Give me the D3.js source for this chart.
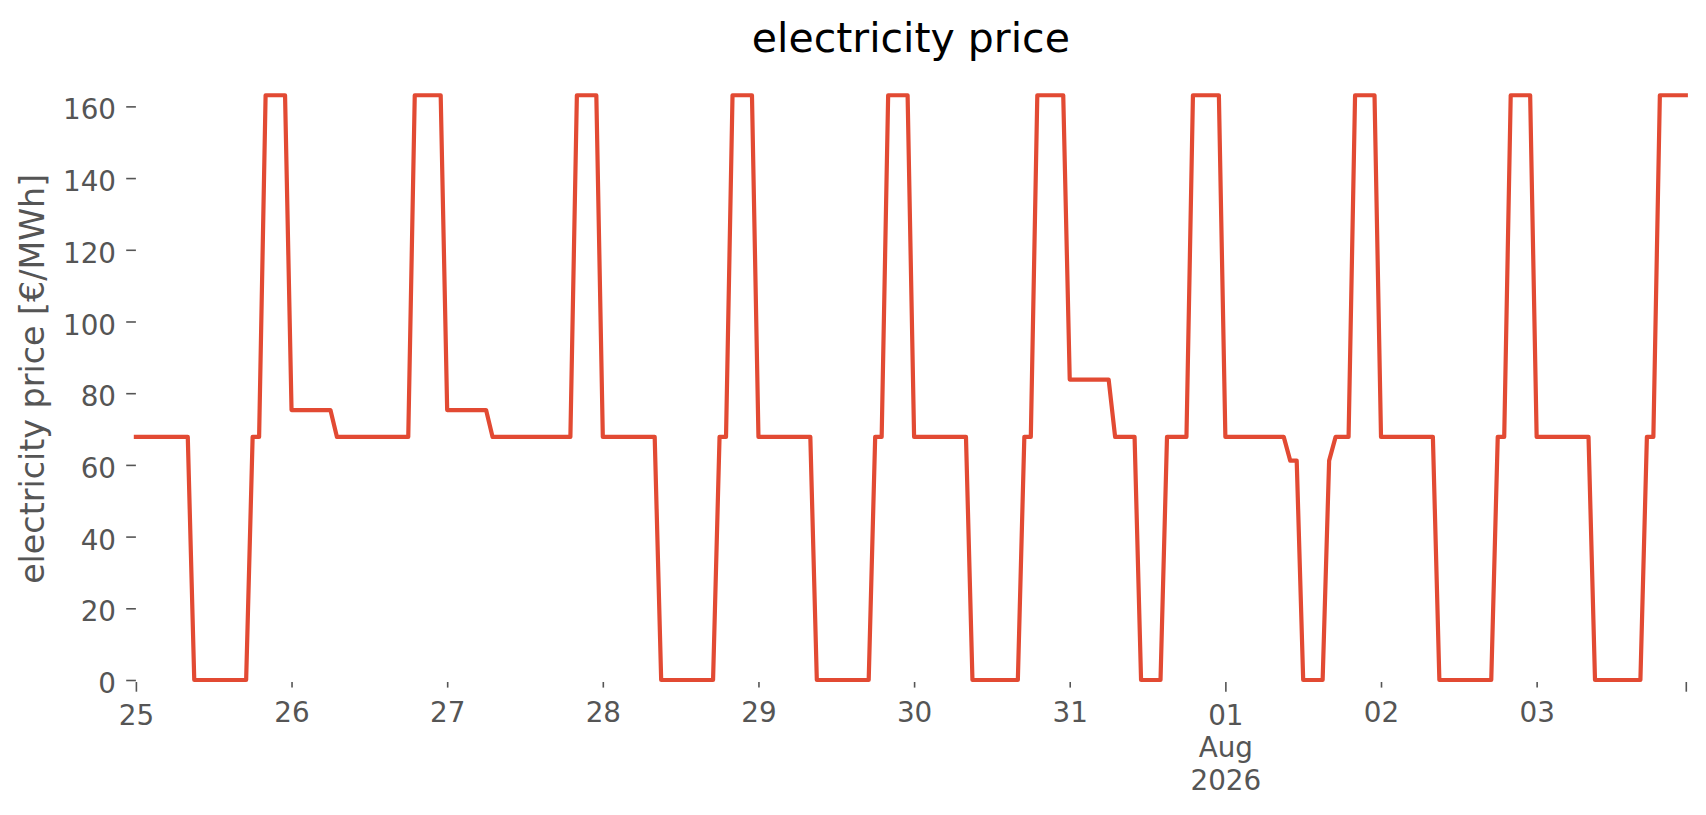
<!DOCTYPE html>
<html>
<head>
<meta charset="utf-8">
<script src="https://cdn.jsdelivr.net/npm/d3@7"></script>
<style>
  body { margin: 0; background: #fff; }
  text { font-family: "DejaVu Sans", sans-serif; }
</style>
</head>
<body>
<div id="chart"></div>
<script>
// hourly prices, 25 Jul 2026 00:00 .. 03 Aug 2026 23:00, one row per day
const prices = [
  67.8, 67.8, 67.8, 67.8, 67.8, 67.8, 67.8, 67.8, 67.8, 0, 0, 0, 0, 0, 0, 0, 0, 0, 67.8, 67.8, 163.1, 163.1, 163.1, 163.1,
  75.3, 75.3, 75.3, 75.3, 75.3, 75.3, 75.3, 67.8, 67.8, 67.8, 67.8, 67.8, 67.8, 67.8, 67.8, 67.8, 67.8, 67.8, 67.8, 163.1, 163.1, 163.1, 163.1, 163.1,
  75.3, 75.3, 75.3, 75.3, 75.3, 75.3, 75.3, 67.8, 67.8, 67.8, 67.8, 67.8, 67.8, 67.8, 67.8, 67.8, 67.8, 67.8, 67.8, 67.8, 163.1, 163.1, 163.1, 163.1,
  67.8, 67.8, 67.8, 67.8, 67.8, 67.8, 67.8, 67.8, 67.8, 0, 0, 0, 0, 0, 0, 0, 0, 0, 67.8, 67.8, 163.1, 163.1, 163.1, 163.1,
  67.8, 67.8, 67.8, 67.8, 67.8, 67.8, 67.8, 67.8, 67.8, 0, 0, 0, 0, 0, 0, 0, 0, 0, 67.8, 67.8, 163.1, 163.1, 163.1, 163.1,
  67.8, 67.8, 67.8, 67.8, 67.8, 67.8, 67.8, 67.8, 67.8, 0, 0, 0, 0, 0, 0, 0, 0, 67.8, 67.8, 163.1, 163.1, 163.1, 163.1, 163.1,
  83.8, 83.8, 83.8, 83.8, 83.8, 83.8, 83.8, 67.8, 67.8, 67.8, 67.8, 0, 0, 0, 0, 67.8, 67.8, 67.8, 67.8, 163.1, 163.1, 163.1, 163.1, 163.1,
  67.8, 67.8, 67.8, 67.8, 67.8, 67.8, 67.8, 67.8, 67.8, 67.8, 61.2, 61.2, 0, 0, 0, 0, 61.2, 67.8, 67.8, 67.8, 163.1, 163.1, 163.1, 163.1,
  67.8, 67.8, 67.8, 67.8, 67.8, 67.8, 67.8, 67.8, 67.8, 0, 0, 0, 0, 0, 0, 0, 0, 0, 67.8, 67.8, 163.1, 163.1, 163.1, 163.1,
  67.8, 67.8, 67.8, 67.8, 67.8, 67.8, 67.8, 67.8, 67.8, 0, 0, 0, 0, 0, 0, 0, 0, 67.8, 67.8, 163.1, 163.1, 163.1, 163.1, 163.1
];
const startTime = Date.UTC(2026, 6, 25, 0);
const yTicks = [0, 20, 40, 60, 80, 100, 120, 140, 160];
// x ticks: major (long) and minor (short) as pandas draws them
const majorTicks = [{ hour: 0, label: ["25"] }, { hour: 168, label: ["01", "Aug", "2026"] }, { hour: 239, label: [] }];
const minorTicks = [
  { hour: 24, label: "26" }, { hour: 48, label: "27" }, { hour: 72, label: "28" },
  { hour: 96, label: "29" }, { hour: 120, label: "30" }, { hour: 144, label: "31" },
  { hour: 192, label: "02" }, { hour: 216, label: "03" }
];

const W = 1706, H = 815;
const mLeft = 135.9, mRight = 1685.8, mTop = 77.7, mBottom = 680;
const grey = "#555555";
const toDate = h => new Date(startTime + h * 3600e3);

const data = prices.map((p, i) => ({ t: toDate(i), p }));

const svg = d3.select("#chart").append("svg")
  .attr("width", W).attr("height", H);

const x = d3.scaleUtc().domain([toDate(0), toDate(prices.length - 1)]).range([mLeft, mRight]);
const y = d3.scaleLinear().domain([0, 168]).range([mBottom, mTop]);

// title
svg.append("text")
  .attr("x", (mLeft + mRight) / 2).attr("y", 51.7)
  .attr("text-anchor", "middle")
  .style("font-size", "41px").style("fill", "#000")
  .text("electricity price");

// y axis
const yAxis = svg.append("g")
  .attr("transform", `translate(${mLeft},0)`)
  .call(d3.axisLeft(y).tickValues(yTicks).tickSize(9.7).tickPadding(10.2));
yAxis.select(".domain").remove();
yAxis.attr("font-family", null);
yAxis.selectAll("line").attr("stroke", grey).attr("stroke-width", 1.6);
yAxis.selectAll("text").attr("dy", "0.45em").style("font-size", "27.8px").style("fill", grey);

svg.append("text")
  .attr("transform", `translate(43.5,${(mTop + mBottom) / 2}) rotate(-90)`)
  .attr("text-anchor", "middle")
  .style("font-size", "33.3px").style("fill", grey)
  .text("electricity price [€/MWh]");

// x axis, minor ticks
const xMinor = svg.append("g")
  .attr("transform", `translate(0,${mBottom + 2})`)
  .call(d3.axisBottom(x).tickValues(minorTicks.map(d => toDate(d.hour)))
    .tickSize(5.6).tickPadding(14.4)
    .tickFormat((d, i) => minorTicks[i].label));
xMinor.select(".domain").remove();
xMinor.attr("font-family", null);
xMinor.selectAll("line").attr("stroke", grey).attr("stroke-width", 1.6);
xMinor.selectAll("text").style("font-size", "27.8px").style("fill", grey);

// x axis, major ticks (multi-line labels)
const xMajor = svg.append("g")
  .attr("transform", `translate(0,${mBottom + 2})`)
  .call(d3.axisBottom(x).tickValues(majorTicks.map(d => toDate(d.hour)))
    .tickSize(9.7).tickPadding(13.6)
    .tickFormat(() => ""));
xMajor.select(".domain").remove();
xMajor.attr("font-family", null);
xMajor.selectAll("line").attr("stroke", grey).attr("stroke-width", 1.6);
xMajor.selectAll("text")
  .style("font-size", "27.8px").style("fill", grey)
  .attr("dy", null)
  .each(function(d, i) {
    const t = d3.select(this);
    majorTicks[i].label.forEach((s, k) => {
      t.append("tspan").attr("x", 0).attr("dy", k === 0 ? "0.71em" : "1.16em").text(s);
    });
  });

// price line
const line = d3.line().x(d => x(d.t)).y(d => y(d.p));
svg.append("path")
  .datum(data)
  .attr("d", line)
  .attr("fill", "none")
  .attr("stroke", "#E24A33")
  .attr("stroke-width", 4.2)
  .attr("stroke-linejoin", "round")
  .attr("stroke-linecap", "square");
</script>
</body>
</html>
